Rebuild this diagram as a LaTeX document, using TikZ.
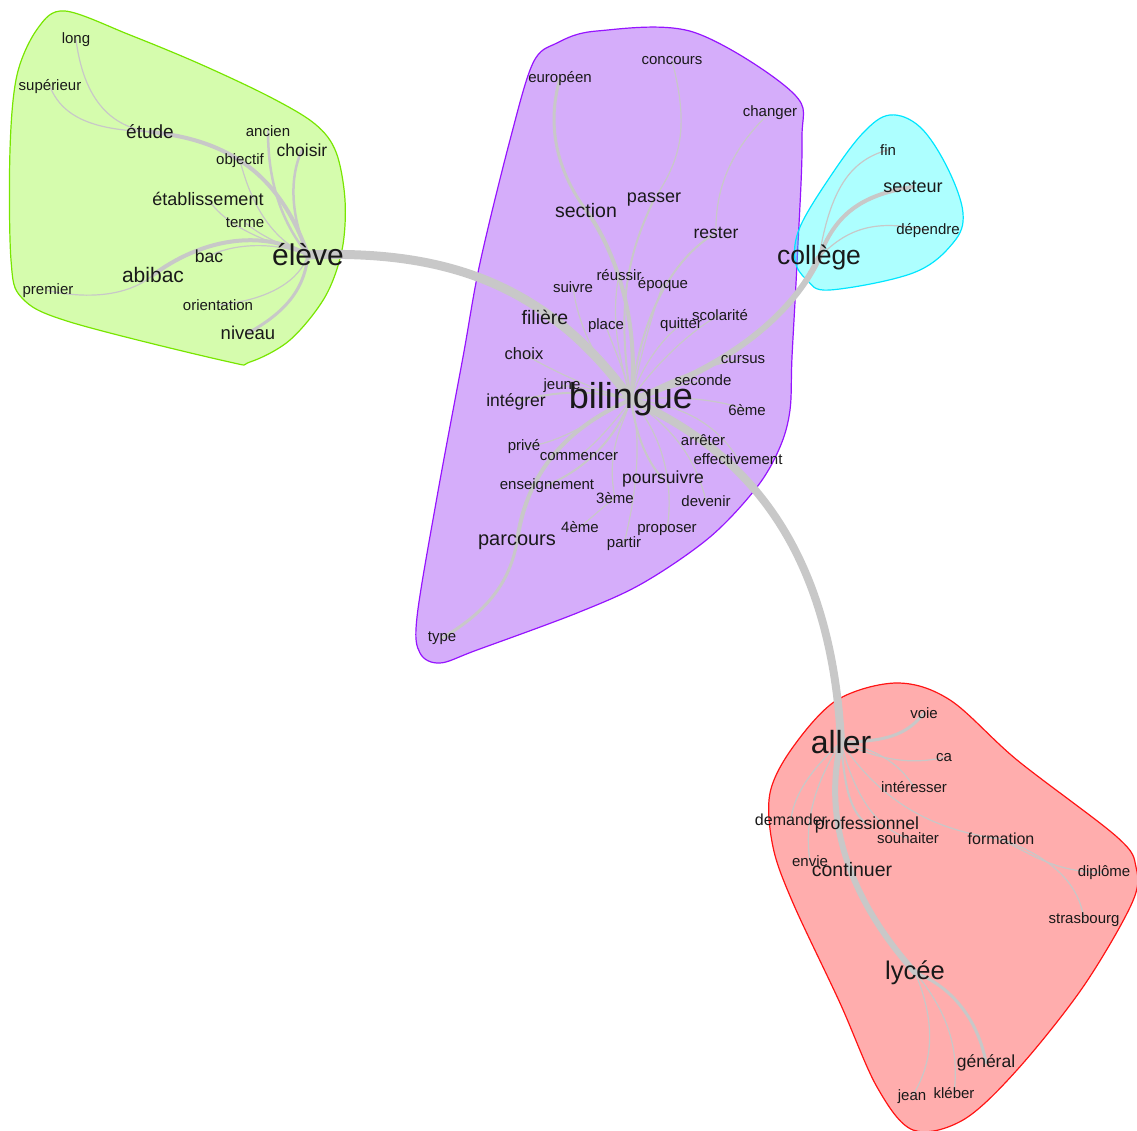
\documentclass[tikz,border=0pt]{standalone}
\usepackage{fontspec}
\setmainfont{Liberation Sans}
\pgfdeclarelayer{hulls}
\pgfdeclarelayer{edges}
\pgfsetlayers{hulls,edges,main}
\definecolor{eg}{RGB}{200,200,200}
\definecolor{txt}{RGB}{25,25,25}
\definecolor{gfill}{RGB}{125,245,0}
\definecolor{gline}{RGB}{120,230,0}
\definecolor{pfill}{RGB}{125,0,240}
\definecolor{pline}{RGB}{150,20,255}
\definecolor{cfill}{RGB}{0,255,255}
\definecolor{cline}{RGB}{0,230,255}
\definecolor{rfill}{RGB}{255,0,0}
\definecolor{rline}{RGB}{255,20,20}
\tikzset{
  word/.style={inner sep=0pt, text=txt, anchor=base, yshift={-0.36pt*#1}, font=\fontsize{#1}{#1}\selectfont},
  word/.default=15,
  ed/.style={draw=eg, line width=#1, line cap=round},
  ed/.default=1.2,
  hull/.style={fill=#1, fill opacity=0.32, draw opacity=1, line width=1.2pt},
}
\begin{document}
\begin{tikzpicture}[x=1pt,y=-1pt]
\useasboundingbox (0,0) rectangle (1137,1131);

% ---------- hulls ----------
\begin{pgfonlayer}{hulls}
\path[hull=gfill, draw=gline] plot[smooth cycle, tension=0.55] coordinates {(65,11) (130,35) (200,64) (270,97) (315,124) (336,152) (345,200) (342,250) (325,297) (290,340) (250,362) (225,361) (70,322) (22,298) (11,260) (10,150) (17,75) (38,28)};
\path[hull=pfill, draw=pline] plot[smooth cycle, tension=0.55] coordinates {(597,31) (693,32) (793,93) (802,140) (797,263) (792,357) (790,410) (780,447) (757,487) (710,537) (643,583) (577,613) (477,650) (440,663) (420,653) (417,617) (437,497) (463,357) (480,263) (510,140) (533,63) (557,43)};
\path[hull=cfill, draw=cline] plot[smooth cycle, tension=0.6] coordinates {(890,115) (863,133) (830,177) (800,227) (795,260) (807,280) (830,290) (913,273) (953,243) (963,213) (947,167) (920,127)};
\path[hull=rfill, draw=rline] plot[smooth cycle, tension=0.55] coordinates {(897,683) (837,700) (793,747) (770,793) (773,847) (793,903) (840,1003) (877,1087) (913,1130) (963,1120) (1017,1070) (1083,987) (1132,903) (1136,867) (1117,837) (1017,760) (950,700)};
\end{pgfonlayer}

% ---------- nodes: green cluster ----------
\node[word=15] (long) at (76,38) {long};
\node[word=15] (superieur) at (50,85) {supérieur};
\node[word=19] (etude) at (150,132) {étude};
\node[word=15] (ancien) at (268,131) {ancien};
\node[word=15] (objectif) at (240,159) {objectif};
\node[word=17.5] (choisir) at (302,150) {choisir};
\node[word=18] (etablissement) at (208,199) {établissement};
\node[word=15] (terme) at (245,222) {terme};
\node[word=17.5] (bac) at (209,256) {bac};
\node[word=30] (eleve) at (308,255) {élève};
\node[word=21] (abibac) at (153,275) {abibac};
\node[word=15] (premier) at (48,289) {premier};
\node[word=15] (orientation) at (218,305) {orientation};
\node[word=18.5] (niveau) at (248,333) {niveau};

% ---------- nodes: purple cluster ----------
\node[word=15] (concours) at (672,59) {concours};
\node[word=15] (europeen) at (560,77) {européen};
\node[word=15] (changer) at (770,111) {changer};
\node[word=18] (passer) at (654,196) {passer};
\node[word=19.5] (section) at (586,210) {section};
\node[word=17.5] (rester) at (716,232) {rester};
\node[word=15] (reussir) at (619,275) {réussir};
\node[word=15] (suivre) at (573,287) {suivre};
\node[word=15] (epoque) at (663,283) {époque};
\node[word=19.5] (filiere) at (545,317) {filière};
\node[word=15] (place) at (606,324) {place};
\node[word=15] (quitter) at (681,323) {quitter};
\node[word=15] (scolarite) at (720,315) {scolarité};
\node[word=16.5] (choix) at (524,354) {choix};
\node[word=15] (cursus) at (743,358) {cursus};
\node[word=15] (seconde) at (703,380) {seconde};
\node[word=15] (jeune) at (562,384) {jeune};
\node[word=36] (bilingue) at (631,396) {bilingue};
\node[word=17.5] (integrer) at (516,400) {intégrer};
\node[word=15] (sixieme) at (747,410) {6ème};
\node[word=15] (prive) at (524,445) {privé};
\node[word=15] (arreter) at (703,440) {arrêter};
\node[word=15] (commencer) at (579,455) {commencer};
\node[word=15] (effectivement) at (738,459) {effectivement};
\node[word=15] (enseignement) at (547,484) {enseignement};
\node[word=17.5] (poursuivre) at (663,477) {poursuivre};
\node[word=15] (troisieme) at (615,498) {3ème};
\node[word=15] (devenir) at (706,501) {devenir};
\node[word=15] (quatrieme) at (580,527) {4ème};
\node[word=15] (proposer) at (667,527) {proposer};
\node[word=15] (partir) at (624,542) {partir};
\node[word=20] (parcours) at (517,538) {parcours};
\node[word=15] (type) at (442,636) {type};

% ---------- nodes: cyan cluster ----------
\node[word=15] (fin) at (888,150) {fin};
\node[word=18] (secteur) at (913,186) {secteur};
\node[word=15] (dependre) at (928,229) {dépendre};
\node[word=26.5] (college) at (819,255) {collège};

% ---------- nodes: red cluster ----------
\node[word=15] (voie) at (924,713) {voie};
\node[word=32] (aller) at (841,742) {aller};
\node[word=15] (ca) at (944,756) {ca};
\node[word=15] (interesser) at (914,787) {intéresser};
\node[word=16] (demander) at (791,820) {demander};
\node[word=17.5] (professionnel) at (867,823) {professionnel};
\node[word=15] (souhaiter) at (908,838) {souhaiter};
\node[word=16] (formation) at (1001,839) {formation};
\node[word=15] (envie) at (810,861) {envie};
\node[word=19.5] (continuer) at (852,869) {continuer};
\node[word=15] (diplome) at (1104,871) {diplôme};
\node[word=15] (strasbourg) at (1084,918) {strasbourg};
\node[word=25.5] (lycee) at (915,970) {lycée};
\node[word=17.5] (general) at (986,1061) {général};
\node[word=15] (jean) at (912,1095) {jean};
\node[word=15] (kleber) at (954,1093) {kléber};

% ---------- edges ----------
\begin{pgfonlayer}{edges}
% main backbone
\draw[ed=9] (eleve.center) .. controls (440,250) and (545,280) .. (bilingue.center);
\draw[ed=6] (bilingue.center) .. controls (720,370) and (790,320) .. (college.center);
\draw[ed=8] (bilingue.center) .. controls (720,440) and (830,520) .. (aller.center);
\draw[ed=6] (aller.center) .. controls (822,820) and (850,900) .. (lycee.center);
% green
\draw[ed=4] (etude.center) .. controls (230,140) and (280,175) .. (eleve.center);
\draw[ed] (long.center) .. controls (85,110) and (120,128) .. (etude.center);
\draw[ed] (superieur.center) .. controls (65,125) and (110,130) .. (etude.center);
\draw[ed=2.5] (ancien.center) .. controls (268,180) and (280,220) .. (eleve.center);
\draw[ed=2.5] (choisir.center) .. controls (288,180) and (292,220) .. (eleve.center);
\draw[ed] (objectif.center) .. controls (250,200) and (270,240) .. (eleve.center);
\draw[ed] (etablissement.center) .. controls (225,225) and (260,240) .. (eleve.center);
\draw[ed] (terme.center) .. controls (260,235) and (280,245) .. (eleve.center);
\draw[ed=4] (abibac.center) .. controls (200,240) and (260,228) .. (eleve.center);
\draw[ed] (bac.center) .. controls (230,245) and (270,240) .. (eleve.center);
\draw[ed] (premier.center) .. controls (90,300) and (130,295) .. (abibac.center);
\draw[ed] (orientation.center) .. controls (270,300) and (300,280) .. (eleve.center);
\draw[ed=3] (niveau.center) .. controls (290,310) and (305,285) .. (eleve.center);
% purple
\draw[ed=4] (section.center) .. controls (615,250) and (640,320) .. (bilingue.center);
\draw[ed=3] (europeen.center) .. controls (545,130) and (560,175) .. (section.center);
\draw[ed] (concours.center) .. controls (690,130) and (680,160) .. (passer.center);
\draw[ed=2] (passer.center) .. controls (630,250) and (615,300) .. (bilingue.center);
\draw[ed] (changer.center) .. controls (730,150) and (715,190) .. (rester.center);
\draw[ed=2] (rester.center) .. controls (670,260) and (640,320) .. (bilingue.center);
\draw[ed] (suivre.center) .. controls (580,340) and (610,380) .. (bilingue.center);
\draw[ed] (reussir.center) .. controls (610,320) and (620,360) .. (bilingue.center);
\draw[ed] (epoque.center) .. controls (650,320) and (640,360) .. (bilingue.center);
\draw[ed=3] (filiere.center) .. controls (580,340) and (610,370) .. (bilingue.center);
\draw[ed] (place.center) .. controls (610,340) and (625,370) .. (bilingue.center);
\draw[ed] (quitter.center) .. controls (660,340) and (640,370) .. (bilingue.center);
\draw[ed] (scolarite.center) .. controls (690,330) and (650,370) .. (bilingue.center);
\draw[ed] (choix.center) .. controls (560,375) and (600,392) .. (bilingue.center);
\draw[ed] (jeune.center) .. controls (590,388) and (610,392) .. (bilingue.center);
\draw[ed=2] (integrer.center) .. controls (565,388) and (600,392) .. (bilingue.center);
\draw[ed] (cursus.center) .. controls (700,365) and (660,385) .. (bilingue.center);
\draw[ed] (seconde.center) .. controls (680,385) and (655,392) .. (bilingue.center);
\draw[ed] (sixieme.center) .. controls (720,400) and (680,395) .. (bilingue.center);
\draw[ed] (prive.center) .. controls (560,445) and (600,415) .. (bilingue.center);
\draw[ed] (commencer.center) .. controls (600,440) and (620,415) .. (bilingue.center);
\draw[ed=2] (enseignement.center) .. controls (600,462) and (620,425) .. (bilingue.center);
\draw[ed=4] (bilingue.center) .. controls (560,430) and (525,480) .. (parcours.center);
\draw[ed=3] (type.center) .. controls (490,610) and (510,580) .. (parcours.center);
\draw[ed] (troisieme.center) .. controls (605,450) and (625,420) .. (bilingue.center);
\draw[ed] (quatrieme.center) .. controls (595,515) and (605,505) .. (troisieme.center);
\draw[ed=2] (poursuivre.center) .. controls (645,460) and (635,430) .. (bilingue.center);
\draw[ed] (partir.center) .. controls (640,480) and (640,430) .. (bilingue.center);
\draw[ed] (proposer.center) .. controls (675,480) and (660,430) .. (bilingue.center);
\draw[ed] (devenir.center) .. controls (697,463) and (677,430) .. (bilingue.center);
\draw[ed] (arreter.center) .. controls (680,430) and (660,410) .. (bilingue.center);
\draw[ed] (effectivement.center) .. controls (720,430) and (690,405) .. (bilingue.center);
% cyan
\draw[ed=4] (college.center) .. controls (835,215) and (860,195) .. (secteur.center);
\draw[ed] (college.center) .. controls (830,190) and (850,160) .. (fin.center);
\draw[ed] (college.center) .. controls (850,225) and (880,220) .. (dependre.center);
% red
\draw[ed=3] (aller.center) .. controls (895,742) and (910,730) .. (voie.center);
\draw[ed] (aller.center) .. controls (880,760) and (910,765) .. (ca.center);
\draw[ed] (aller.center) .. controls (880,750) and (900,765) .. (interesser.center);
\draw[ed] (aller.center) .. controls (880,800) and (930,830) .. (formation.center);
\draw[ed] (formation.center) .. controls (1040,860) and (1060,872) .. (diplome.center);
\draw[ed] (formation.center) .. controls (1060,860) and (1080,890) .. (strasbourg.center);
\draw[ed] (aller.center) .. controls (805,775) and (793,800) .. (demander.center);
\draw[ed] (aller.center) .. controls (810,790) and (805,830) .. (envie.center);
\draw[ed=2] (aller.center) .. controls (845,790) and (850,810) .. (professionnel.center);
\draw[ed] (aller.center) .. controls (855,800) and (880,830) .. (souhaiter.center);
\draw[ed=3] (aller.center) .. controls (830,790) and (835,840) .. (continuer.center);
\draw[ed=3] (lycee.center) .. controls (960,990) and (980,1030) .. (general.center);
\draw[ed] (lycee.center) .. controls (935,1020) and (935,1060) .. (jean.center);
\draw[ed] (lycee.center) .. controls (955,1020) and (958,1060) .. (kleber.center);
\end{pgfonlayer}
\end{tikzpicture}
\end{document}
